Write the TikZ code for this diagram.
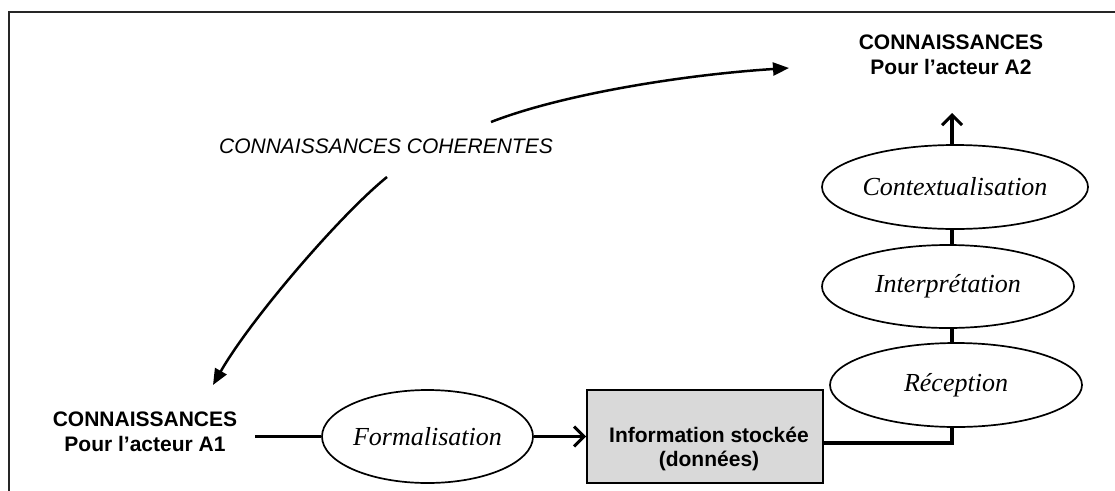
\documentclass[tikz,border=0pt]{standalone}
\usepackage{fontspec}
\setmainfont{Liberation Serif}
\newfontfamily\arialfont{Liberation Sans}
\usetikzlibrary{shapes.geometric,arrows.meta}
\begin{document}
\begin{tikzpicture}[x=1pt,y=-1pt,
  sanslbl/.style={font=\arialfont\bfseries\fontsize{21}{24.5}\selectfont, align=center, inner sep=0pt},
  cohlbl/.style={font=\arialfont\itshape\fontsize{21}{24}\selectfont, inner sep=0pt},
  proc/.style={draw, ellipse, line width=1.7pt, inner sep=0pt, font=\itshape\fontsize{26}{30}\selectfont},
  storebox/.style={draw, line width=1.7pt, fill=black!15, rectangle, inner sep=0pt},
  link/.style={line width=3.3pt},
  curvearrow/.style={line width=2.5pt, -{Triangle[length=16pt,width=13pt]}},
  openarrow/.style={line width=3.3pt, -{Straight Barb[length=10pt,width=20pt,line width=3pt]}},
]
\useasboundingbox (0,0) rectangle (1115,490);
% frame
\draw[line width=2.4pt, black!85] (9,492) -- (9,12) -- (1117,12);

% texts
\node[sanslbl] (a2) at (951,55) {CONNAISSANCES\\Pour l’acteur A2};
\node[sanslbl] (a1) at (145,432) {CONNAISSANCES\\Pour l’acteur A1};
\node[cohlbl] (coh) at (386,146) {CONNAISSANCES COHERENTES};

% process ellipses
\node[proc, minimum width=266pt, minimum height=84pt] (ctx) at (955,187) {Contextualisation};
\node[proc, minimum width=252pt, minimum height=83pt] (int) at (948,286.5) {Interprétation};
\node[proc, minimum width=252pt, minimum height=84pt] (rec) at (956,385) {Réception};
\node[proc, minimum width=211pt, minimum height=93pt] (form) at (427.5,436.5) {Formalisation};

% storage box
\node[storebox, minimum width=236pt, minimum height=93pt] (box) at (705,436.5) {};
\node[sanslbl] (boxtxt) at (709,449) {Information stockée\\(données)};

% helper coordinates
\coordinate (spine) at (952,0);
\coordinate (a2tip) at (952,113);
\coordinate (bend) at (952,443);
\coordinate (u0) at (491,122);
\coordinate (u1) at (789,68);
\coordinate (l0) at (387,177);
\coordinate (l1) at (213,385);

% connectors
\draw[link] ([xshift=18pt]a1.east |- form.west) -- (form.west);
\draw[openarrow] (form.east) -- (box.west |- form.east);
\draw[link] (box.east |- bend) -- (bend) -- (rec.south -| spine);
\draw[link] (rec.north -| spine) -- (int.south -| spine);
\draw[link] (int.north -| spine) -- (ctx.south -| spine);
\draw[openarrow] (ctx.north -| spine) -- (a2tip);

% curved arrows
\draw[curvearrow] (u0) .. controls (560,95) and (680,75) .. (u1);
\draw[curvearrow] (l0) .. controls (340,215) and (250,320) .. (l1);
\end{tikzpicture}
\end{document}
